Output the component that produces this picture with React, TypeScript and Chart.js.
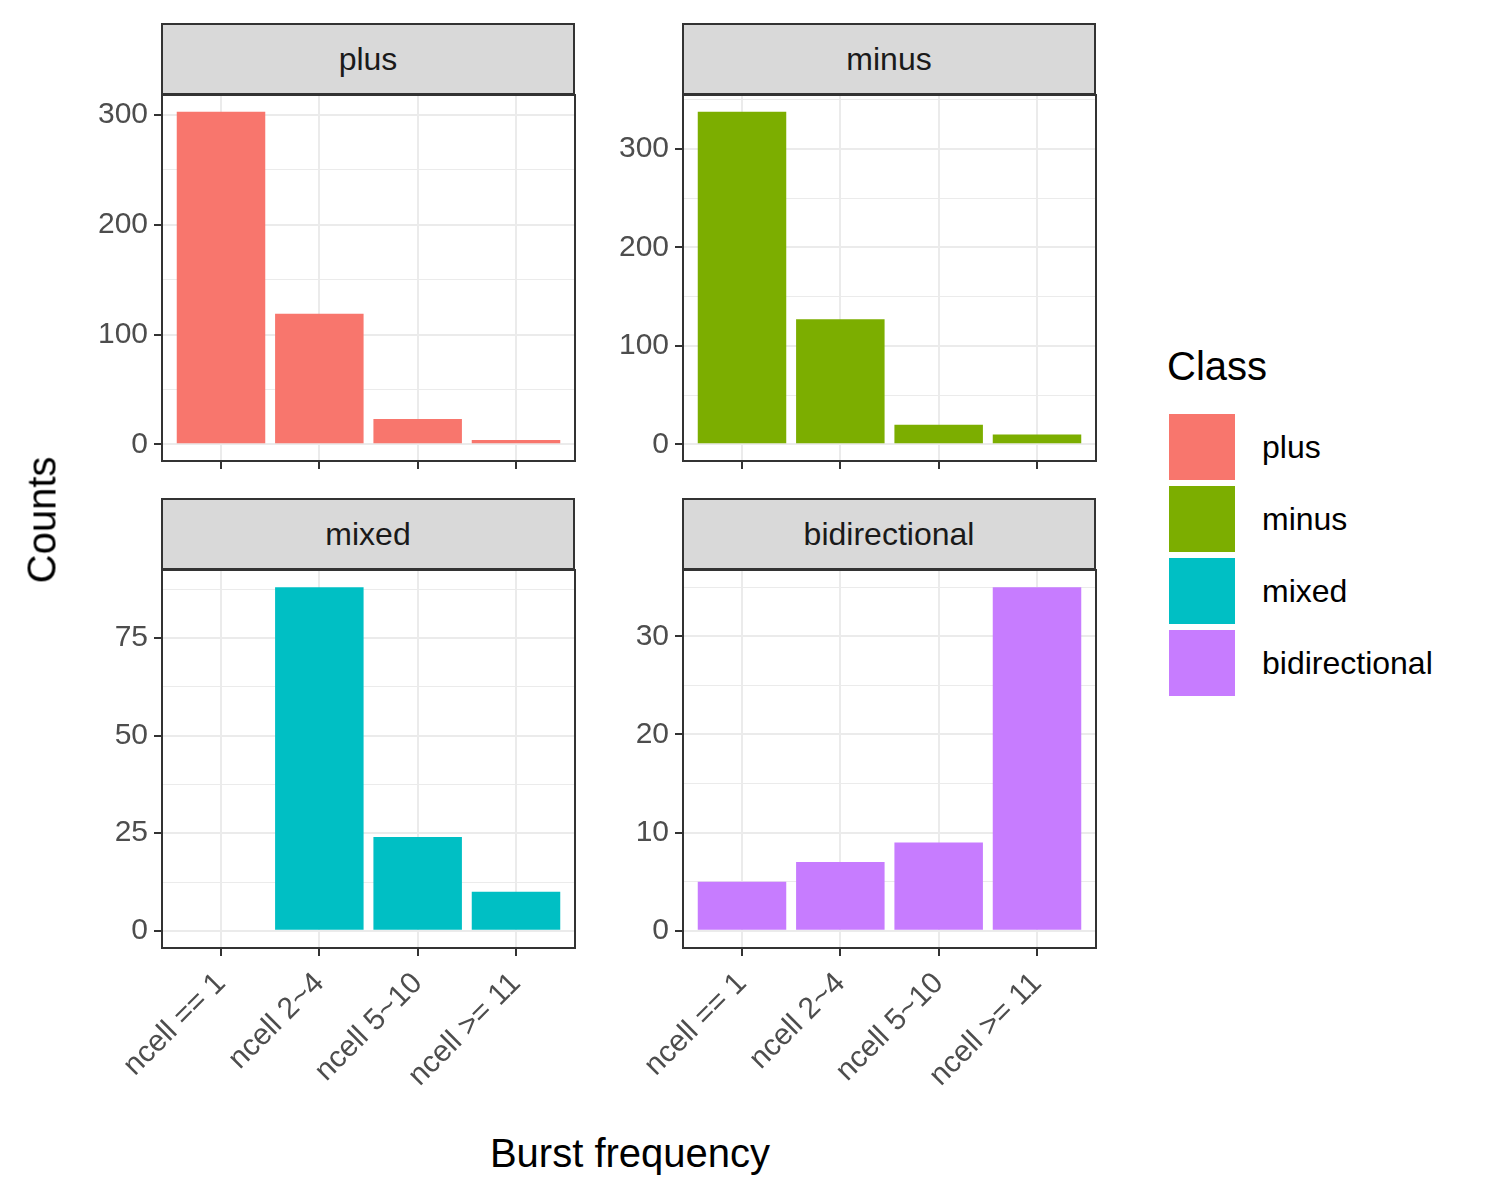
import { useEffect, useRef } from 'react';
import Chart from 'chart.js/auto';

const categories = ['ncell == 1', 'ncell 2~4', 'ncell 5~10', 'ncell >= 11'];
const classes = ['plus', 'minus', 'mixed', 'bidirectional'];
const classColors = ['#F8766D', '#7CAE00', '#00BFC4', '#C77CFF'];

const plusCounts = [303, 119, 23, 4];
const minusCounts = [338, 127, 20, 10];
const mixedCounts = [null, 88, 24, 10];
const bidirectionalCounts = [5, 7, 9, 35];

const plusTicks = [0, 100, 200, 300];
const minusTicks = [0, 100, 200, 300];
const mixedTicks = [0, 25, 50, 75];
const bidirectionalTicks = [0, 10, 20, 30];

const FONT = '"Liberation Sans", Arial, sans-serif';
const PAD = 24;

const borderPlugin = {
  id: 'panelBorder',
  afterDraw(chart: any) {
    const { ctx, chartArea: a } = chart;
    ctx.save();
    ctx.strokeStyle = '#333333';
    ctx.lineWidth = 2;
    ctx.strokeRect(a.left, a.top, a.right - a.left, a.bottom - a.top);
    ctx.restore();
  },
};

interface PanelProps {
  values: (number | null)[];
  majors: number[];
  color: string;
  left: number;
  top: number;
  showLabels: boolean;
}

function Panel({ values, majors, color, left, top, showLabels }: PanelProps) {
  const ref = useRef<HTMLCanvasElement>(null);
  const yW = 100;
  const pw = 413;
  const ph = 378;
  const xH = showLabels ? 180 : 12;
  const w = yW + pw + PAD;
  const h = ph + xH + PAD;

  useEffect(() => {
    if (!ref.current) return;
    const max = Math.max(...(values.filter(v => v !== null) as number[]));
    const pad = max * 0.05;
    const step = majors[1] - majors[0];
    const yTicks: number[] = [];
    for (let v = 0; v <= max + pad; v += step / 2) yTicks.push(v);
    const isMajor = (v: number) => majors.includes(v);

    const chart = new Chart(ref.current, {
      type: 'bar',
      data: {
        datasets: [{
          data: values.map((v, i) => ({ x: i, y: v })) as any,
          backgroundColor: color,
          categoryPercentage: 1,
          barPercentage: 0.9,
        }],
      },
      options: {
        animation: false,
        responsive: false,
        layout: { padding: { top: PAD, right: PAD, left: 0, bottom: 0 } },
        plugins: { legend: { display: false }, tooltip: { enabled: false } },
        scales: {
          x: {
            type: 'linear',
            offset: false,
            min: -0.6,
            max: 3.6,
            afterBuildTicks: (s: any) => { s.ticks = [0, 1, 2, 3].map(v => ({ value: v })); },
            afterFit: (s: any) => { s.height = xH; },
            border: { display: false },
            grid: { offset: false, color: '#ebebeb', lineWidth: 2, tickLength: 8, tickColor: '#333333' },
            ticks: {
              display: showLabels,
              autoSkip: false,
              minRotation: 45,
              maxRotation: 45,
              padding: 10,
              color: '#4d4d4d',
              font: { family: FONT, size: 30 },
              callback: (v: any) => categories[v] ?? '',
            },
          },
          y: {
            min: -pad,
            max: max + pad,
            afterBuildTicks: (s: any) => { s.ticks = yTicks.map(v => ({ value: v })); },
            afterFit: (s: any) => { s.width = yW; },
            border: { display: false },
            grid: {
              color: '#ebebeb',
              lineWidth: (c: any) => (isMajor(c.tick.value) ? 2 : 1),
              tickLength: 8,
              tickColor: (c: any) => (isMajor(c.tick.value) ? '#333333' : 'rgba(0,0,0,0)'),
            },
            ticks: {
              padding: 6,
              color: '#4d4d4d',
              font: { family: FONT, size: 30 },
              callback: (v: any) => (isMajor(v) ? String(v) : ''),
            },
          },
        },
      },
      plugins: [borderPlugin],
    });
    return () => chart.destroy();
  }, []);

  return (
    <canvas
      ref={ref}
      width={w}
      height={h}
      style={{ position: 'absolute', left: left - yW, top: top - PAD, width: w, height: h }}
    />
  );
}

function Strip({ label, left, top }: { label: string; left: number; top: number }) {
  return (
    <div style={{
      position: 'absolute', left, top, width: 414, height: 72, boxSizing: 'border-box',
      background: '#d9d9d9', border: '2px solid #333333', display: 'flex',
      alignItems: 'center', justifyContent: 'center', fontFamily: FONT, fontSize: 32, color: '#1a1a1a',
    }}>{label}</div>
  );
}

export default function App() {
  useEffect(() => { document.body.style.margin = '0'; }, []);
  const lefts = [162, 683, 162, 683];
  const tops = [95, 95, 570, 570];
  const series = [plusCounts, minusCounts, mixedCounts, bidirectionalCounts];
  const tickSets = [plusTicks, minusTicks, mixedTicks, bidirectionalTicks];

  return (
    <div style={{ position: 'relative', width: 1500, height: 1200, background: '#fff', fontFamily: FONT }}>
      {classes.map((c, i) => (
        <Panel key={c} values={series[i]} majors={tickSets[i]} color={classColors[i]}
          left={lefts[i]} top={tops[i]} showLabels={i >= 2} />
      ))}
      {classes.map((c, i) => (
        <Strip key={'s' + c} label={c} left={lefts[i] - 1} top={tops[i] - 72} />
      ))}
      <div style={{
        position: 'absolute', left: 42, top: 520, transform: 'translate(-50%, -50%) rotate(-90deg)',
        fontSize: 40, whiteSpace: 'nowrap',
      }}>Counts</div>
      <div style={{
        position: 'absolute', left: 630, top: 1153, transform: 'translate(-50%, -50%)',
        fontSize: 40, whiteSpace: 'nowrap',
      }}>Burst frequency</div>
      <div style={{ position: 'absolute', left: 1167, top: 344, fontSize: 40 }}>Class</div>
      {classes.map((c, i) => (
        <div key={'l' + c} style={{ position: 'absolute', left: 1169, top: 414 + i * 72, display: 'flex', alignItems: 'center' }}>
          <div style={{ width: 66, height: 66, background: classColors[i] }} />
          <div style={{ marginLeft: 27, fontSize: 32 }}>{c}</div>
        </div>
      ))}
    </div>
  );
}
